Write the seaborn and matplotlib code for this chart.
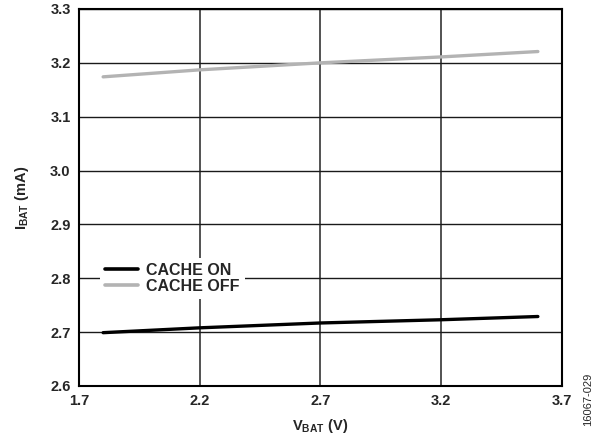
import matplotlib
matplotlib.use("Agg")
import matplotlib.pyplot as plt
import seaborn as sns
import pandas as pd

vbat = [1.8, 2.2, 2.7, 3.2, 3.6]
cache_on = [2.699, 2.708, 2.717, 2.723, 2.729]
cache_off = [3.174, 3.187, 3.200, 3.211, 3.221]
xticks = [1.7, 2.2, 2.7, 3.2, 3.7]
yticks = [2.6, 2.7, 2.8, 2.9, 3.0, 3.1, 3.2, 3.3]

sns.set_theme(style="white")
plt.rcParams['font.family'] = ['Liberation Sans', 'DejaVu Sans']
plt.rcParams['mathtext.fontset'] = 'custom'
plt.rcParams['mathtext.rm'] = 'Liberation Sans:weight=bold'
plt.rcParams['mathtext.bf'] = 'Liberation Sans:weight=bold'
plt.rcParams['mathtext.it'] = 'Liberation Sans:weight=bold'

df = pd.DataFrame({
    "V": vbat * 2,
    "I": cache_on + cache_off,
    "series": ["CACHE ON"] * len(vbat) + ["CACHE OFF"] * len(vbat),
})

fig = plt.figure(figsize=(5.97, 4.36), dpi=100)
ax = fig.add_axes([0.1323, 0.1147, 0.8091, 0.8647])

sns.lineplot(data=df, x="V", y="I", hue="series",
             palette={"CACHE ON": "#000000", "CACHE OFF": "#b3b3b3"},
             linewidth=2.4, ax=ax, zorder=3)

ax.set_xlim(1.7, 3.7)
ax.set_ylim(2.6, 3.3)
ax.set_xticks(xticks)
ax.set_yticks(yticks)
ax.set_xticklabels([f"{v:.1f}" for v in xticks], fontweight="bold", fontsize=10.5)
ax.set_yticklabels([f"{v:.1f}" for v in yticks], fontweight="bold", fontsize=10.5)
ax.tick_params(axis="both", length=0, pad=6)
ax.grid(True, axis="y", color="#1a1a1a", linewidth=1.0)
ax.grid(True, axis="x", color="#444444", linewidth=1.3)
ax.set_axisbelow(True)
for s in ax.spines.values():
    s.set_color("black")
    s.set_linewidth(1.5)

ax.set_xlabel(r"$\mathbf{V_{BAT}}$ (V)", fontweight="bold", fontsize=10.5, labelpad=6)
ax.set_ylabel(r"$\mathbf{I_{BAT}}$ (mA)", fontweight="bold", fontsize=10.5, labelpad=14)

leg = ax.legend(loc="upper left", bbox_to_anchor=(0.027, 0.36), frameon=True,
                fancybox=False, edgecolor="none", facecolor="white", framealpha=1,
                handlelength=2.1, handletextpad=0.5, borderpad=0.3, labelspacing=0.05,
                prop={"weight": "bold", "size": 11.5})
for line in leg.get_lines():
    line.set_linewidth(2.6)

fig.text(0.985, 0.085, "16067-029", rotation=90, fontsize=8, ha="center", va="center")

fig.savefig("out.png", dpi=100)
